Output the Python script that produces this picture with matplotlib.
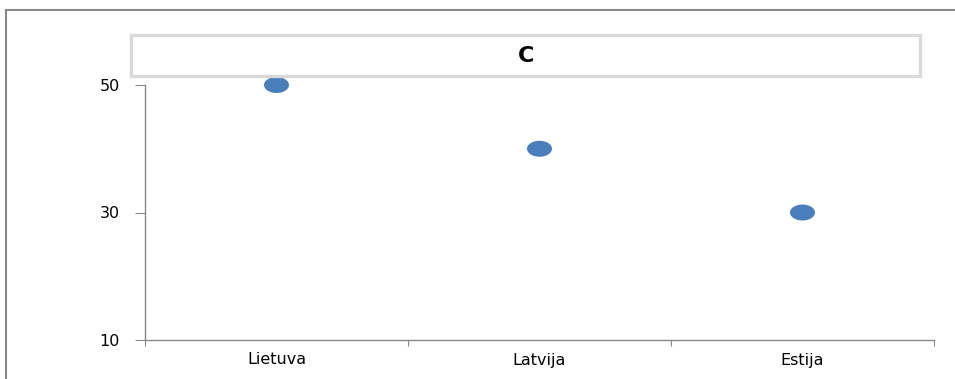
import matplotlib
matplotlib.use("Agg")
import matplotlib.pyplot as plt
from matplotlib.patches import Rectangle
from matplotlib.path import Path
import numpy as np

categories = ["Lietuva", "Latvija", "Estija"]
values = [50, 40, 30]
yticks = [10, 30, 50]
title = "C"

W, H = 955, 379
fig = plt.figure(figsize=(W / 100, H / 100), dpi=100)
fig.patch.set_facecolor("white")

# outer frame
fig.patches.append(Rectangle((6 / W, -0.05), 1.1, 1 - 10 / H + 0.05,
                             transform=fig.transFigure, fill=False,
                             edgecolor="#878787", linewidth=1.5))
# title box
fig.patches.append(Rectangle((131 / W, 1 - 76 / H), (920 - 131) / W, (76 - 35) / H,
                             transform=fig.transFigure, fill=False,
                             edgecolor="#d9d9d9", linewidth=2.4))
fig.text(526 / W, 1 - 56 / H, title, ha="center", va="center",
         fontsize=16, fontweight="bold", family="DejaVu Sans")

ax = fig.add_axes([145 / W, 1 - 340 / H, (934 - 145) / W, (340 - 85) / H])
x = np.arange(1, len(categories) + 1)

t = np.linspace(0, 2 * np.pi, 60)
ell = Path(np.column_stack([np.cos(t), 0.64 * np.sin(t)]), closed=True)
ax.scatter(x, values, marker=ell, s=(25 * 0.72) ** 2, color="#4a7ebb",
           edgecolors="none", clip_on=False, zorder=3)

ax.set_xlim(0.5, len(categories) + 0.5)
ax.set_ylim(10, 50)
for s in ["top", "right"]:
    ax.spines[s].set_visible(False)
for s in ["left", "bottom"]:
    ax.spines[s].set_color("#888888")
    ax.spines[s].set_linewidth(1.0)

ax.set_yticks(yticks)
ax.set_yticklabels([str(v) for v in yticks])
ax.tick_params(axis="y", direction="out", length=7, color="#888888",
               labelsize=11.5, pad=11)
ax.set_xticks(np.arange(0.5, len(categories) + 1, 1.0))
ax.set_xticklabels([""] * (len(categories) + 1))
ax.tick_params(axis="x", which="major", direction="out", length=4,
               color="#888888")
ax.set_xticks(x, minor=True)
ax.set_xticklabels(categories, minor=True)
ax.tick_params(axis="x", which="minor", length=0, labelsize=11.5, pad=9)

fig.savefig("out.png", dpi=100, facecolor="white")
